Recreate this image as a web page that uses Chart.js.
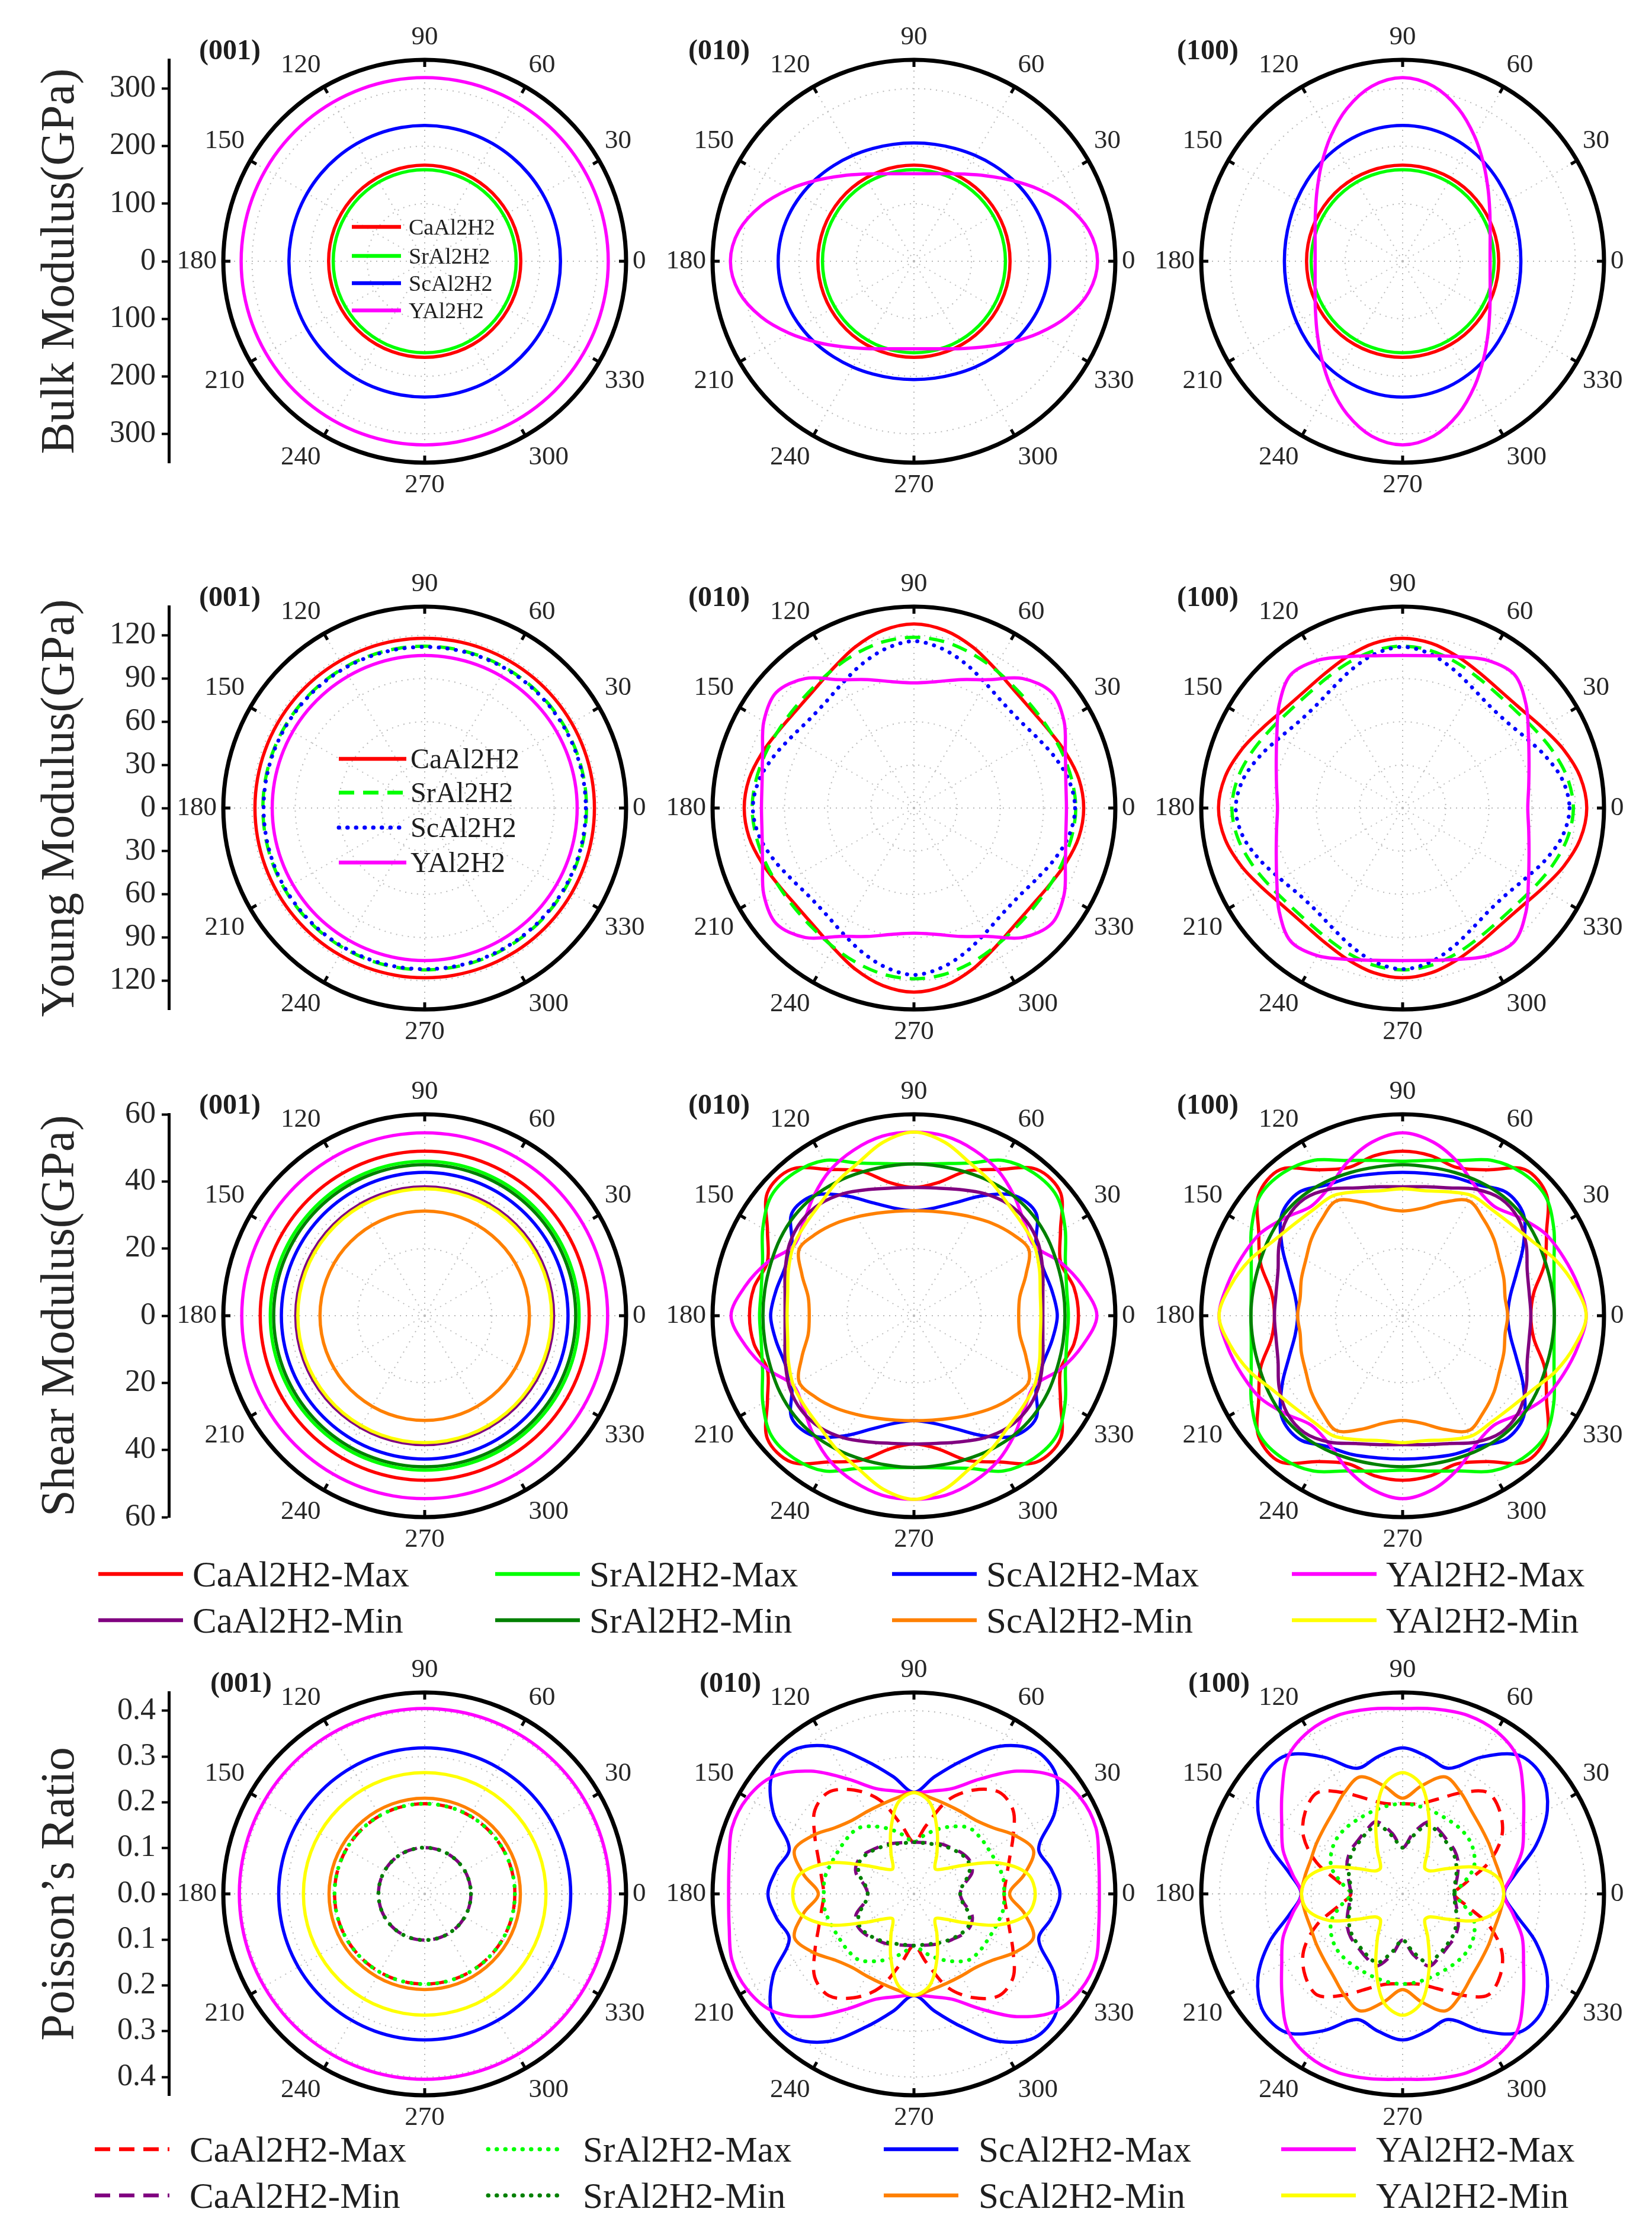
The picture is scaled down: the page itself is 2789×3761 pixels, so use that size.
<!DOCTYPE html>
<html>
<head>
<meta charset="utf-8">
<script src="https://cdn.jsdelivr.net/npm/chart.js@4.4.1/dist/chart.umd.min.js"></script>
<style>
html,body{margin:0;padding:0;background:#fff;}
#page{position:relative;width:2789px;height:3761px;overflow:hidden;background:#fff;font-family:'Liberation Serif','Times New Roman',serif;color:#1e1e1e;}
#page canvas{position:absolute;}
.t{position:absolute;white-space:nowrap;line-height:1;transform:translateY(-50%);}
svg{position:absolute;overflow:visible;}
</style>
</head>
<body>
<div id="page"></div>
<script>
// ---------------- DATA ----------------
// polar angle of each sample (degrees, counter-clockwise from 0)
const angles = [0,10,20,30,40,50,60,70,80,90,100,110,120,130,140,150,160,170,180,190,200,210,220,230,240,250,260,270,280,290,300,310,320,330,340,350];
const angleTickLabels = [0,30,60,90,120,150,180,210,240,270,300,330];

const compounds = ['CaAl2H2','SrAl2H2','ScAl2H2','YAl2H2'];
const mmNames = ['CaAl2H2-Max','SrAl2H2-Max','ScAl2H2-Max','YAl2H2-Max','CaAl2H2-Min','SrAl2H2-Min','ScAl2H2-Min','YAl2H2-Min'];

// left-axis tick values
const bulkAxisTicks = [-300,-200,-100,0,100,200,300];
const youngAxisTicks = [-120,-90,-60,-30,0,30,60,90,120];
const shearAxisTicks = [-60,-40,-20,0,20,40,60];
const poissonAxisTicks = [-0.4,-0.3,-0.2,-0.1,0,0.1,0.2,0.3,0.4];
// polar ring values
const bulkRings = [100,200,300];
const youngRings = [30,60,90,120];
const shearRings = [20,40];
const poissonRings = [0.1,0.2,0.3,0.4];

// radius of circular (isotropic) curves
const bulk001_Ca = 167, bulk001_Sr = 159, bulk001_Sc = 236, bulk001_Y = 319;
const bulk010_Ca = 167, bulk010_Sr = 159, bulk100_Ca = 167, bulk100_Sr = 159;
const young001_Ca = 118, young001_Sr = 112.5, young001_Sc = 112, young001_Y = 106;
const shear001_CaMax = 49, shear001_SrMax = 46, shear001_ScMax = 42.7, shear001_YMax = 54.5;
const shear001_CaMin = 38.4, shear001_SrMin = 45, shear001_ScMin = 31.2, shear001_YMin = 37.8;
const poisson001_CaMax = 0.197, poisson001_SrMax = 0.197, poisson001_ScMax = 0.319, poisson001_YMax = 0.405;
const poisson001_CaMin = 0.101, poisson001_SrMin = 0.101, poisson001_ScMin = 0.209, poisson001_YMin = 0.265;

// Bulk modulus (GPa)
const bulk010_Sc = [236,235,232,227.5,222.4,217.1,212.4,208.6,206.3,205.5,206.3,208.6,212.4,217.1,222.4,227.5,232,235,236,235,232,227.5,222.4,217.1,212.4,208.6,206.3,205.5,206.3,208.6,212.4,217.1,222.4,227.5,232,235];
const bulk010_Y = [319,308.7,282.6,250.3,219.4,193.9,174.9,161.9,154.4,152,154.4,161.9,174.9,193.9,219.4,250.3,282.6,308.7,319,308.7,282.6,250.3,219.4,193.9,174.9,161.9,154.4,152,154.4,161.9,174.9,193.9,219.4,250.3,282.6,308.7];
const bulk100_Sc = [205.5,206.3,208.6,212.4,217.1,222.4,227.5,232,235,236,235,232,227.5,222.4,217.1,212.4,208.6,206.3,205.5,206.3,208.6,212.4,217.1,222.4,227.5,232,235,236,235,232,227.5,222.4,217.1,212.4,208.6,206.3];
const bulk100_Y = [152,154.4,161.9,174.9,193.9,219.4,250.3,282.6,308.7,319,308.7,282.6,250.3,219.4,193.9,174.9,161.9,154.4,152,154.4,161.9,174.9,193.9,219.4,250.3,282.6,308.7,319,308.7,282.6,250.3,219.4,193.9,174.9,161.9,154.4];

// Young modulus (GPa)
const young010_Ca = [118,116.4,112.3,108.2,106.3,107.6,112.2,119.2,125.3,128,125.3,119.2,112.2,107.6,106.3,108.2,112.3,116.4,118,116.4,112.3,108.2,106.3,107.6,112.2,119.2,125.3,128,125.3,119.2,112.2,107.6,106.3,108.2,112.3,116.4];
const young010_Sr = [112.5,111.5,110,108.6,108.2,109.2,111.7,114.8,117.6,118.7,117.6,114.8,111.7,109.2,108.2,108.6,110,111.5,112.5,111.5,110,108.6,108.2,109.2,111.7,114.8,117.6,118.7,117.6,114.8,111.7,109.2,108.2,108.6,110,111.5];
const young010_Sc = [112,109.5,104,98.5,95.3,95.8,99.9,106.3,112.5,116,112.5,106.3,99.9,95.8,95.3,98.5,104,109.5,112,109.5,104,98.5,95.3,95.8,99.9,106.3,112.5,116,112.5,106.3,99.9,95.8,95.3,98.5,104,109.5];
const young010_Y = [106,107.2,112,120.5,125,117.5,103,95,89.2,87,89.2,95,103,117.5,125,120.5,112,107.2,106,107.2,112,120.5,125,117.5,103,95,89.2,87,89.2,95,103,117.5,125,120.5,112,107.2];
const young100_Ca = [128,125.3,119,112,107.2,106,108,112,116.2,118,116.2,112,108,106,107.2,112,119,125.3,128,125.3,119,112,107.2,106,108,112,116.2,118,116.2,112,108,106,107.2,112,119,125.3];
const young100_Sr = [118.7,116.6,112,107.2,103.8,103,104.7,108,111.2,112.5,111.2,108,104.7,103,103.8,107.2,112,116.6,118.7,116.6,112,107.2,103.8,103,104.7,108,111.2,112.5,111.2,108,104.7,103,103.8,107.2,112,116.6];
const young100_Sc = [116,112.8,105.6,98.3,93.8,93.3,96.7,102.7,108.9,112,108.9,102.7,96.7,93.3,93.8,98.3,105.6,112.8,116,112.8,105.6,98.3,93.8,93.3,96.7,102.7,108.9,112,108.9,102.7,96.7,93.3,93.8,98.3,105.6,112.8];
const young100_Y = [87,89,93.5,101,112,121,118.5,112,107.5,106,107.5,112,118.5,121,112,101,93.5,89,87,89,93.5,101,112,121,118.5,112,107.5,106,107.5,112,118.5,121,112,101,93.5,89];

// Shear modulus (GPa)
const shear010_CaMax = [49,48.4,46.5,50.4,57,56.9,50.3,45.8,40.2,38.2,40.2,45.8,50.3,56.9,57,50.4,46.5,48.4,49,48.4,46.5,50.4,57,56.9,50.3,45.8,40.2,38.2,40.2,45.8,50.3,56.9,57,50.4,46.5,48.4];
const shear010_SrMax = [46,46.2,48,52,55.5,55.5,53.4,48.4,46,45.2,46,48.4,53.4,55.5,55.5,52,48,46.2,46,46.2,48,52,55.5,55.5,53.4,48.4,46,45.2,46,48.4,53.4,55.5,55.5,52,48,46.2];
const shear010_ScMax = [42.7,41.8,41,42,47.5,46.7,41.3,35.8,32.5,31.3,32.5,35.8,41.3,46.7,47.5,42,41,41.8,42.7,41.8,41,42,47.5,46.7,41.3,35.8,32.5,31.3,32.5,35.8,41.3,46.7,47.5,42,41,41.8];
const shear010_YMax = [54.5,51,46.5,41.5,43,46.5,50,52.5,54.3,54.7,54.3,52.5,50,46.5,43,41.5,46.5,51,54.5,51,46.5,41.5,43,46.5,50,52.5,54.3,54.7,54.3,52.5,50,46.5,43,41.5,46.5,51];
const shear010_CaMin = [38.4,39,40.8,42.8,43.8,43.5,42,40,38.6,38.2,38.6,40,42,43.5,43.8,42.8,40.8,39,38.4,39,40.8,42.8,43.8,43.5,42,40,38.6,38.2,38.6,40,42,43.5,43.8,42.8,40.8,39];
const shear010_SrMin = [45,45.1,45.4,46,46.4,46.4,46,45.5,45.2,45.2,45.2,45.5,46,46.4,46.4,46,45.4,45.1,45,45.1,45.4,46,46.4,46.4,46,45.5,45.2,45.2,45.2,45.5,46,46.4,46.4,46,45.4,45.1];
const shear010_ScMin = [31.2,32,35.5,39.5,38,36,34,32.5,31.6,31.3,31.6,32.5,34,36,38,39.5,35.5,32,31.2,32,35.5,39.5,38,36,34,32.5,31.6,31.3,31.6,32.5,34,36,38,39.5,35.5,32];
const shear010_YMin = [37.8,38.2,39.8,41.5,42.3,43.5,46,48.5,52.5,54.7,52.5,48.5,46,43.5,42.3,41.5,39.8,38.2,37.8,38.2,39.8,41.5,42.3,43.5,46,48.5,52.5,54.7,52.5,48.5,46,43.5,42.3,41.5,39.8,38.2];
const shear100_CaMax = [38.2,39.7,45,49.5,56,56.8,50.2,47,48.4,49,48.4,47,50.2,56.8,56,49.5,45,39.7,38.2,39.7,45,49.5,56,56.8,50.2,47,48.4,49,48.4,47,50.2,56.8,56,49.5,45,39.7];
const shear100_SrMax = [45.2,45.8,48,52,55.5,55.5,53.4,49.2,47,46,47,49.2,53.4,55.5,55.5,52,48,45.8,45.2,45.8,48,52,55.5,55.5,53.4,49.2,47,46,47,49.2,53.4,55.5,55.5,52,48,45.8];
const shear100_ScMax = [31.3,32.5,36,41.5,47,48,45,44,43,42.7,43,44,45,48,47,41.5,36,32.5,31.3,32.5,36,41.5,47,48,45,44,43,42.7,43,44,45,48,47,41.5,36,32.5];
const shear100_YMax = [54.7,53,51,49,45.5,42.5,44,48.5,52.5,54.5,52.5,48.5,44,42.5,45.5,49,51,53,54.7,53,51,49,45.5,42.5,44,48.5,52.5,54.5,52.5,48.5,44,42.5,45.5,49,51,53];
const shear100_CaMin = [38.2,38.3,39.5,42.5,45,45.5,43.5,40.5,39,38.4,39,40.5,43.5,45.5,45,42.5,39.5,38.3,38.2,38.3,39.5,42.5,45,45.5,43.5,40.5,39,38.4,39,40.5,43.5,45.5,45,42.5,39.5,38.3];
const shear100_SrMin = [45.2,45.2,45.4,46,46.5,46.5,46,45.4,45,45,45,45.4,46,46.5,46.5,46,45.4,45.2,45.2,45.2,45.4,46,46.5,46.5,46,45.4,45,45,45,45.4,46,46.5,46.5,46,45.4,45.2];
const shear100_ScMin = [31.3,31,32.1,33.3,35.5,37.5,39.5,36,32.5,31.2,32.5,36,39.5,37.5,35.5,33.3,32.1,31,31.3,31,32.1,33.3,35.5,37.5,39.5,36,32.5,31.2,32.5,36,39.5,37.5,35.5,33.3,32.1,31];
const shear100_YMin = [54.7,52,48.5,44.5,42.3,41.3,41.3,39.3,37.8,37.8,37.8,39.3,41.3,41.3,42.3,44.5,48.5,52,54.7,52,48.5,44.5,42.3,41.3,41.3,39.3,37.8,37.8,37.8,39.3,41.3,41.3,42.3,44.5,48.5,52];

// Poisson's ratio
const poisson010_CaMax = [0.197,0.205,0.222,0.25,0.283,0.29,0.262,0.218,0.151,0.113,0.151,0.218,0.262,0.29,0.283,0.25,0.222,0.205,0.197,0.205,0.222,0.25,0.283,0.29,0.262,0.218,0.151,0.113,0.151,0.218,0.262,0.29,0.283,0.25,0.222,0.205];
const poisson010_SrMax = [0.197,0.198,0.193,0.19,0.19,0.188,0.17,0.15,0.13,0.113,0.13,0.15,0.17,0.188,0.19,0.19,0.193,0.198,0.197,0.198,0.193,0.19,0.19,0.188,0.17,0.15,0.13,0.113,0.13,0.15,0.17,0.188,0.19,0.19,0.193,0.198];
const poisson010_ScMax = [0.319,0.305,0.29,0.355,0.405,0.41,0.372,0.31,0.26,0.222,0.26,0.31,0.372,0.41,0.405,0.355,0.29,0.305,0.319,0.305,0.29,0.355,0.405,0.41,0.372,0.31,0.26,0.222,0.26,0.31,0.372,0.41,0.405,0.355,0.29,0.305];
const poisson010_YMax = [0.405,0.41,0.423,0.42,0.4,0.35,0.29,0.245,0.228,0.221,0.228,0.245,0.29,0.35,0.4,0.42,0.423,0.41,0.405,0.41,0.423,0.42,0.4,0.35,0.29,0.245,0.228,0.221,0.228,0.245,0.29,0.35,0.4,0.42,0.423,0.41];
const poisson010_CaMin = [0.101,0.11,0.135,0.142,0.138,0.13,0.125,0.118,0.114,0.113,0.114,0.118,0.125,0.13,0.138,0.142,0.135,0.11,0.101,0.11,0.135,0.142,0.138,0.13,0.125,0.118,0.114,0.113,0.114,0.118,0.125,0.13,0.138,0.142,0.135,0.11];
const poisson010_SrMin = [0.101,0.108,0.128,0.138,0.135,0.128,0.122,0.116,0.113,0.113,0.113,0.116,0.122,0.128,0.135,0.138,0.128,0.108,0.101,0.108,0.128,0.138,0.135,0.128,0.122,0.116,0.113,0.113,0.113,0.116,0.122,0.128,0.135,0.138,0.128,0.108];
const poisson010_ScMin = [0.209,0.245,0.278,0.255,0.225,0.21,0.207,0.208,0.213,0.222,0.213,0.208,0.207,0.21,0.225,0.255,0.278,0.245,0.209,0.245,0.278,0.255,0.225,0.21,0.207,0.208,0.213,0.222,0.213,0.208,0.207,0.21,0.225,0.255,0.278,0.245];
const poisson010_YMin = [0.265,0.252,0.198,0.125,0.085,0.072,0.1,0.148,0.202,0.221,0.202,0.148,0.1,0.072,0.085,0.125,0.198,0.252,0.265,0.252,0.198,0.125,0.085,0.072,0.1,0.148,0.202,0.221,0.202,0.148,0.1,0.072,0.085,0.125,0.198,0.252];
const poisson100_CaMax = [0.113,0.14,0.2,0.25,0.278,0.289,0.255,0.22,0.2,0.197,0.2,0.22,0.255,0.289,0.278,0.25,0.2,0.14,0.113,0.14,0.2,0.25,0.278,0.289,0.255,0.22,0.2,0.197,0.2,0.22,0.255,0.289,0.278,0.25,0.2,0.14];
const poisson100_SrMax = [0.113,0.135,0.165,0.18,0.188,0.19,0.19,0.192,0.195,0.197,0.195,0.192,0.19,0.19,0.188,0.18,0.165,0.135,0.113,0.135,0.165,0.18,0.188,0.19,0.19,0.192,0.195,0.197,0.195,0.192,0.19,0.19,0.188,0.18,0.165,0.135];
const poisson100_ScMax = [0.222,0.25,0.31,0.365,0.398,0.395,0.345,0.292,0.305,0.319,0.305,0.292,0.345,0.395,0.398,0.365,0.31,0.25,0.222,0.25,0.31,0.365,0.398,0.395,0.345,0.292,0.305,0.319,0.305,0.292,0.345,0.395,0.398,0.365,0.31,0.25];
const poisson100_YMax = [0.221,0.244,0.278,0.305,0.344,0.39,0.41,0.415,0.41,0.405,0.41,0.415,0.41,0.39,0.344,0.305,0.278,0.244,0.221,0.244,0.278,0.305,0.344,0.39,0.41,0.415,0.41,0.405,0.41,0.415,0.41,0.39,0.344,0.305,0.278,0.244];
const poisson100_CaMin = [0.113,0.118,0.128,0.14,0.148,0.152,0.16,0.168,0.135,0.101,0.135,0.168,0.16,0.152,0.148,0.14,0.128,0.118,0.113,0.118,0.128,0.14,0.148,0.152,0.16,0.168,0.135,0.101,0.135,0.168,0.16,0.152,0.148,0.14,0.128,0.118];
const poisson100_SrMin = [0.113,0.116,0.125,0.135,0.143,0.148,0.155,0.16,0.128,0.101,0.128,0.16,0.155,0.148,0.143,0.135,0.125,0.116,0.113,0.116,0.125,0.135,0.143,0.148,0.155,0.16,0.128,0.101,0.128,0.16,0.155,0.148,0.143,0.135,0.125,0.116];
const poisson100_ScMin = [0.221,0.217,0.214,0.218,0.224,0.235,0.255,0.272,0.24,0.209,0.24,0.272,0.255,0.235,0.224,0.218,0.214,0.217,0.221,0.217,0.214,0.218,0.224,0.235,0.255,0.272,0.24,0.209,0.24,0.272,0.255,0.235,0.224,0.218,0.214,0.217];
const poisson100_YMin = [0.221,0.21,0.17,0.11,0.078,0.075,0.11,0.17,0.24,0.265,0.24,0.17,0.11,0.075,0.078,0.11,0.17,0.21,0.221,0.21,0.17,0.11,0.078,0.075,0.11,0.17,0.24,0.265,0.24,0.17,0.11,0.075,0.078,0.11,0.17,0.21];

// ---------------- LAYOUT / STYLE ----------------
const colX = [717, 1543, 2368];
const rowY = [441, 1364, 2221, 3197];
const R = 340;
const RED='#ff0000', GREEN='#00ff00', BLUE='#0000ff', MAG='#ff00ff', PURPLE='#800080', DKGREEN='#008000', ORANGE='#ff8000', YELLOW='#ffff00';
const DASH = [26, 15], DOT = [0.5, 14];
const bulkStyles = [{c:RED},{c:GREEN},{c:BLUE},{c:MAG}];
const youngStyles = [{c:RED},{c:GREEN,dash:DASH},{c:BLUE,dot:true},{c:MAG}];
const shearStyles = [{c:RED},{c:GREEN},{c:BLUE},{c:MAG},{c:PURPLE},{c:DKGREEN},{c:ORANGE},{c:YELLOW}];
const poissonStyles = [{c:RED,dash:DASH},{c:GREEN,dot:true},{c:BLUE},{c:MAG},{c:PURPLE,dash:DASH},{c:DKGREEN,dot:true},{c:ORANGE},{c:YELLOW}];

const page = document.getElementById('page');
const ring = r => angles.map(() => r);
const FONT = "'Liberation Serif','Times New Roman',serif";

const outerTicks = {
  id: 'outerTicks',
  beforeDatasetsDraw(chart) {
    const s = chart.scales.r, ctx = chart.ctx;
    ctx.save(); ctx.strokeStyle = '#000'; ctx.lineWidth = 5;
    chart.data.labels.forEach((v, i) => {
      if (!angleTickLabels.includes(v)) return;
      const a = s.getPointPosition(i, s.drawingArea - 12), b = s.getPointPosition(i, s.drawingArea + 2);
      ctx.beginPath(); ctx.moveTo(a.x, a.y); ctx.lineTo(b.x, b.y); ctx.stroke();
    });
    ctx.restore();
  }
};

function polarChart(x, y, max, rings, series, styles) {
  const cv = document.createElement('canvas');
  cv.width = 1000; cv.height = 810;
  cv.style.left = (x - 500) + 'px'; cv.style.top = (y - 405) + 'px';
  cv.style.width = '1000px'; cv.style.height = '810px';
  page.appendChild(cv);
  const idx = angles.map((_, i) => (36 - i) % 36);   // clockwise label order -> CCW angle order
  const isMax = c => c.tick && Math.abs(c.tick.value - max) < 1e-9;
  new Chart(cv, {
    type: 'radar',
    data: {
      labels: idx.map(k => angles[k]),
      datasets: series.map((d, j) => {
        const st = styles[j];
        return {
          data: idx.map(k => d[k]),
          borderColor: st.c,
          borderWidth: st.dot ? 6.5 : 5.5,
          borderDash: st.dot ? DOT : (st.dash || []),
          borderCapStyle: st.dot ? 'round' : 'butt',
          borderJoinStyle: 'round',
          fill: false, pointRadius: 0, pointHitRadius: 0, pointHoverRadius: 0,
          tension: 0.33,
          order: series.length - j
        };
      })
    },
    options: {
      responsive: false, animation: false, devicePixelRatio: 1,
      layout: {padding: 0},
      events: [],
      plugins: {legend: {display: false}, tooltip: {enabled: false}},
      scales: {
        r: {
          min: 0, max: max, startAngle: 90,
          afterBuildTicks: s => { s.ticks = [0].concat(rings, [max]).map(v => ({value: v})); },
          ticks: {display: false},
          grid: {
            circular: true,
            color: c => isMax(c) ? '#000' : '#b9b9b9',
            lineWidth: c => isMax(c) ? 7 : 2
          },
          border: {dash: c => isMax(c) ? [] : [2, 8]},
          angleLines: {
            display: true, color: '#b9b9b9',
            lineWidth: c => (c.label !== '' ? 2 : 0),
            borderDash: [2, 8]
          },
          pointLabels: {
            display: true, padding: 11, color: '#262626',
            font: {family: FONT, size: 45},
            callback: v => angleTickLabels.includes(v) ? String(v) : ''
          }
        }
      }
    },
    plugins: [outerTicks]
  });
}

function axisChart(y, max, ticks, title, fmt) {
  const cv = document.createElement('canvas');
  cv.width = 300; cv.height = 800;
  cv.style.left = '0px'; cv.style.top = (y - 400) + 'px';
  cv.style.width = '300px'; cv.style.height = '800px';
  page.appendChild(cv);
  new Chart(cv, {
    type: 'scatter',
    data: {datasets: []},
    options: {
      responsive: false, animation: false, devicePixelRatio: 1, events: [],
      layout: {padding: {top: 60, bottom: 60, left: 0, right: 0}},
      plugins: {legend: {display: false}, tooltip: {enabled: false}},
      scales: {
        x: {display: false, min: 0, max: 1},
        y: {
          min: -max, max: max,
          afterBuildTicks: s => { s.ticks = ticks.map(v => ({value: v})); },
          afterFit: s => { s.width = 285; },
          ticks: {autoSkip: false, padding: 10, color: '#262626', font: {family: FONT, size: 52}, callback: v => fmt(Math.abs(v))},
          grid: {drawOnChartArea: false, drawTicks: true, tickLength: 12, tickWidth: 4, tickColor: '#000'},
          border: {display: true, color: '#000', width: 5},
          title: {display: true, text: title, color: '#262626', font: {family: FONT, size: 80}, padding: {top: 55, bottom: 0}}
        }
      }
    }
  });
}

function text(str, x, y, size, extra) {
  const d = document.createElement('div');
  d.className = 't'; d.textContent = str;
  d.style.left = x + 'px'; d.style.top = y + 'px'; d.style.fontSize = size + 'px';
  if (extra) Object.assign(d.style, extra);
  page.appendChild(d);
}
function swatch(x1, x2, y, st) {
  const ns = 'http://www.w3.org/2000/svg';
  const svg = document.createElementNS(ns, 'svg');
  svg.setAttribute('width', x2 - x1 + 10); svg.setAttribute('height', 20);
  svg.style.left = (x1 - 5) + 'px'; svg.style.top = (y - 10) + 'px';
  const ln = document.createElementNS(ns, 'line');
  ln.setAttribute('x1', 5); ln.setAttribute('x2', x2 - x1 + 5);
  ln.setAttribute('y1', 10); ln.setAttribute('y2', 10);
  ln.setAttribute('stroke', st.c);
  ln.setAttribute('stroke-width', st.dot ? 7 : 6.5);
  if (st.dot) { ln.setAttribute('stroke-dasharray', DOT.join(' ')); ln.setAttribute('stroke-linecap', 'round'); }
  else if (st.dash) { ln.setAttribute('stroke-dasharray', st.dash.join(' ')); }
  svg.appendChild(ln); page.appendChild(svg);
}

// ---------------- AXES ----------------
axisChart(rowY[0], 350, bulkAxisTicks, 'Bulk Modulus(GPa)', v => String(Math.round(v)));
axisChart(rowY[1], 140, youngAxisTicks, 'Young Modulus(GPa)', v => String(Math.round(v)));
axisChart(rowY[2], 60, shearAxisTicks, 'Shear Modulus(GPa)', v => String(Math.round(v)));
axisChart(rowY[3], 0.44, poissonAxisTicks, 'Poisson\u2019s Ratio', v => v.toFixed(1));

// ---------------- POLAR PANELS ----------------
const rows = [
  {max: 350, rings: bulkRings, styles: bulkStyles, panels: [
    [ring(bulk001_Ca), ring(bulk001_Sr), ring(bulk001_Sc), ring(bulk001_Y)],
    [ring(bulk010_Ca), ring(bulk010_Sr), bulk010_Sc, bulk010_Y],
    [ring(bulk100_Ca), ring(bulk100_Sr), bulk100_Sc, bulk100_Y]]},
  {max: 140, rings: youngRings, styles: youngStyles, panels: [
    [ring(young001_Ca), ring(young001_Sr), ring(young001_Sc), ring(young001_Y)],
    [young010_Ca, young010_Sr, young010_Sc, young010_Y],
    [young100_Ca, young100_Sr, young100_Sc, young100_Y]]},
  {max: 60, rings: shearRings, styles: shearStyles, panels: [
    [ring(shear001_CaMax), ring(shear001_SrMax), ring(shear001_ScMax), ring(shear001_YMax), ring(shear001_CaMin), ring(shear001_SrMin), ring(shear001_ScMin), ring(shear001_YMin)],
    [shear010_CaMax, shear010_SrMax, shear010_ScMax, shear010_YMax, shear010_CaMin, shear010_SrMin, shear010_ScMin, shear010_YMin],
    [shear100_CaMax, shear100_SrMax, shear100_ScMax, shear100_YMax, shear100_CaMin, shear100_SrMin, shear100_ScMin, shear100_YMin]]},
  {max: 0.44, rings: poissonRings, styles: poissonStyles, panels: [
    [ring(poisson001_CaMax), ring(poisson001_SrMax), ring(poisson001_ScMax), ring(poisson001_YMax), ring(poisson001_CaMin), ring(poisson001_SrMin), ring(poisson001_ScMin), ring(poisson001_YMin)],
    [poisson010_CaMax, poisson010_SrMax, poisson010_ScMax, poisson010_YMax, poisson010_CaMin, poisson010_SrMin, poisson010_ScMin, poisson010_YMin],
    [poisson100_CaMax, poisson100_SrMax, poisson100_ScMax, poisson100_YMax, poisson100_CaMin, poisson100_SrMin, poisson100_ScMin, poisson100_YMin]]}
];
const planeTags = ['(001)', '(010)', '(100)'];

rows.forEach((row, r) => {
  row.panels.forEach((series, c) => {
    polarChart(colX[c], rowY[r], row.max, row.rings, series, row.styles);
  });
});
rows.forEach((row, r) => {
  planeTags.forEach((tag, c) => {
    text(tag, colX[c] - (r === 3 ? 362 : 381), rowY[r] - 357, 48, {fontWeight: 'bold'});
  });
});

// ---------------- LEGENDS ----------------
// in-plot legends (rows 1 and 2)
[383, 432, 478, 524].forEach((y, i) => {
  swatch(594, 677, y, bulkStyles[i]);
  text(compounds[i], 690, y, 38);
});
[1281, 1338, 1397, 1456].forEach((y, i) => {
  swatch(572, 686, y, youngStyles[i]);
  text(compounds[i], 693, y, 48);
});
// shear legend
const legTopTextX = [325, 995, 1665, 2340];
[2657, 2735].forEach((y, rr) => {
  legTopTextX.forEach((tx, c) => {
    const k = rr * 4 + c;
    swatch(tx - 159, tx - 16, y, shearStyles[k]);
    text(mmNames[k], tx, y, 61);
  });
});
// poisson legend
const legBotTextX = [320, 984, 1652, 2323];
[3628, 3706].forEach((y, rr) => {
  legBotTextX.forEach((tx, c) => {
    const k = rr * 4 + c;
    swatch(tx - 160, tx - 34, y, poissonStyles[k]);
    text(mmNames[k], tx, y, 61);
  });
});
</script>
</body>
</html>
